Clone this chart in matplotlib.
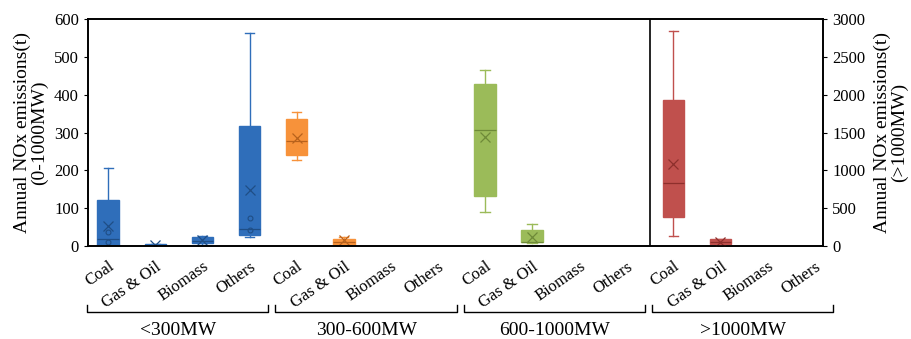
import matplotlib.pyplot as plt
import matplotlib.transforms as mtransforms
from matplotlib.lines import Line2D

plt.rcParams['font.family'] = 'Liberation Serif'

fuels = ["Coal", "Gas & Oil", "Biomass", "Others"]
groups = ["<300MW", "300-600MW", "600-1000MW", ">1000MW"]
colors = ["#2F6EBA", "#F7923A", "#9BBB59", "#C0504D"]
darks = ["#1F4E86", "#B8621C", "#6E8A38", "#8E2F2C"]

# box statistics, 4 fuels per capacity group (None = no data)
# groups 1-3 on the left axis (t), group 4 on the right axis (t)
whislo = [0, 0, 3, 23,   228, 2, None, None,   90, 8, None, None,   132, 15, None, None]
q1 =     [4, 0, 7, 30,   241, 3, None, None,   133, 10, None, None, 386, 26, None, None]
med =    [18, 1, 14, 46, 277, 10, None, None,  307, 12, None, None, 829, 60, None, None]
q3 =     [122, 5, 24, 318, 337, 18, None, None, 429, 42, None, None, 1930, 88, None, None]
whishi = [206, 6, 28, 563, 354, 23, None, None, 465, 58, None, None, 2842, 100, None, None]
means =  [54, 4, 15, 149, 286, 16, None, None, 288, 23, None, None, 1088, 60, None, None]
inner_idx = [0, 0, 3, 3]
inner_val = [37, 10, 74, 42]

fig = plt.figure(figsize=(9.12, 3.39), dpi=100)
ax = fig.add_axes([0.0965, 0.274, 0.806, 0.670])
ax2 = ax.twinx()

for i in range(16):
    if med[i] is None:
        continue
    g = i // 4
    c, d = colors[g], darks[g]
    target = ax2 if g == 3 else ax
    st = dict(med=med[i], q1=q1[i], q3=q3[i], whislo=whislo[i], whishi=whishi[i],
              mean=means[i], fliers=[])
    target.bxp([st], positions=[i], widths=0.46, capwidths=0.2, patch_artist=True,
               showmeans=True, showfliers=False, manage_ticks=False,
               boxprops=dict(facecolor=c, edgecolor=c, linewidth=1.0),
               medianprops=dict(color=d, linewidth=0.9),
               whiskerprops=dict(color=c, linewidth=1.0),
               capprops=dict(color=c, linewidth=1.0),
               meanprops=dict(marker='x', markeredgecolor=d, markersize=7, markeredgewidth=0.9))

for i, v in zip(inner_idx, inner_val):
    ax.plot(i, v, 'o', ms=3.5, mfc='none', mec=darks[0], mew=0.8)

ax.set_xlim(-0.43, 15.18)
ax.set_ylim(0, 600)
ax2.set_ylim(0, 3000)
ax.set_yticks(range(0, 601, 100))
ax2.set_yticks(range(0, 3001, 500))
ax.axvline(11.5, color='black', lw=1.2)

ax.set_xticks(range(16))
ax.set_xticklabels(fuels * 4, rotation=35, ha='right', va='top', rotation_mode='anchor',
                   fontsize=12)
ax.tick_params(axis='x', length=0, pad=9)
ax.tick_params(axis='y', labelsize=12, direction='out', length=3)
ax2.tick_params(axis='y', labelsize=12, direction='out', length=3)
for a in (ax, ax2):
    for s in a.spines.values():
        s.set_linewidth(1.2)

ax.set_ylabel("Annual NOx emissions(t)\n(0-1000MW)", fontsize=14, labelpad=4, linespacing=1.0)
ax2.set_ylabel("Annual NOx emissions(t)\n(>1000MW)", fontsize=14, rotation=90, labelpad=6,
               linespacing=1.0)

# capacity group brackets
trans = mtransforms.blended_transform_factory(ax.transData, ax.transAxes)
for g, name in enumerate(groups):
    x0, x1 = 4 * g - 0.45, 4 * g + 3.4
    ax.add_line(Line2D([x0, x0, x1, x1], [-0.26, -0.29, -0.29, -0.26], transform=trans,
                       color='black', lw=1.0, clip_on=False))
    ax.text((x0 + x1) / 2, -0.37, name, transform=trans, ha='center', va='center', fontsize=14)

fig.savefig("out.png", dpi=100)
